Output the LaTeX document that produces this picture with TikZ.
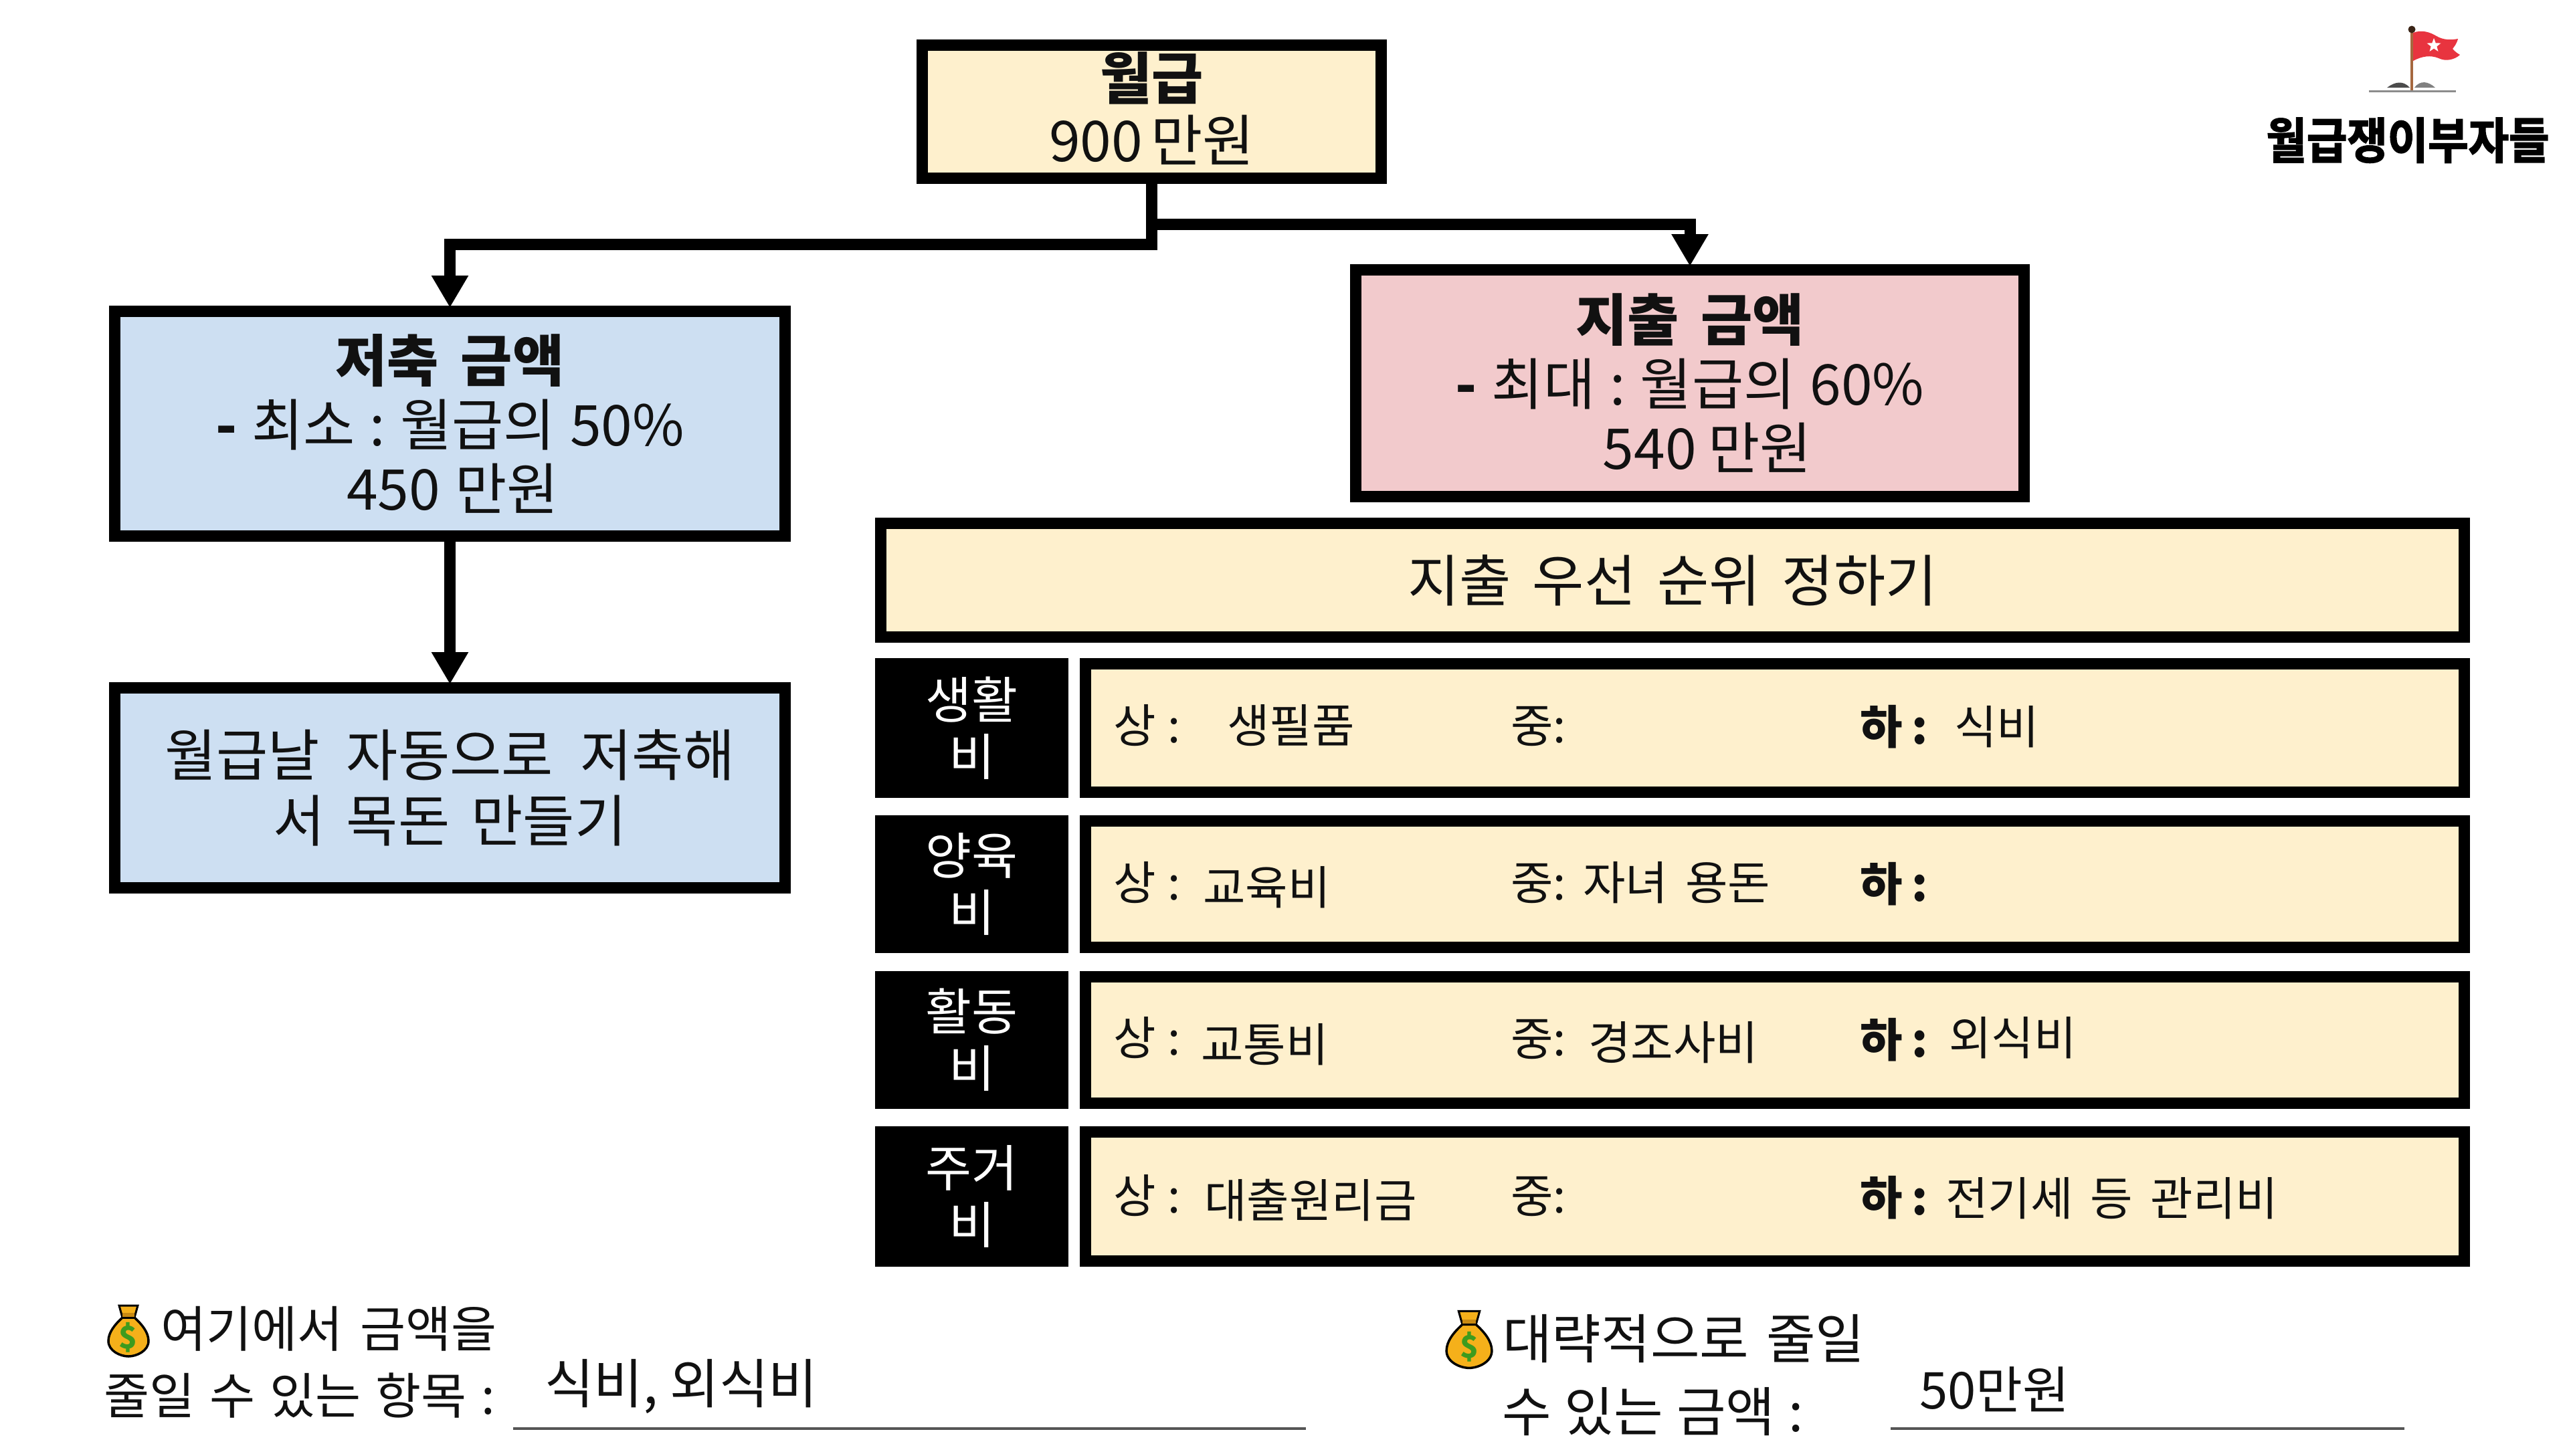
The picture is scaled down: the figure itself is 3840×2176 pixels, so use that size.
\documentclass[tikz,border=0pt]{standalone}
\usepackage{fontspec}
\setmainfont[WordSpace=1.7]{Noto Sans CJK KR}
\newfontfamily\logofont[FakeBold=2.2,FakeStretch=0.9,WordSpace=1]{Noto Sans CJK KR Bold}
\usetikzlibrary{arrows.meta,shapes.geometric}
\definecolor{cream}{HTML}{FEF0CD}
\definecolor{sky}{HTML}{CDDFF2}
\definecolor{rose}{HTML}{F2CACC}
\definecolor{ink}{HTML}{111111}
\definecolor{ruleg}{HTML}{555555}
\definecolor{flagred}{HTML}{E8343F}
\definecolor{pole}{HTML}{A5683F}
\definecolor{baggold}{HTML}{F5B01A}
\definecolor{bagneck}{HTML}{C98A12}
\definecolor{baggreen}{HTML}{3E9B1E}
\newcommand{\fs}[2]{\fontsize{#1}{#2}\selectfont}
\newcommand{\gap}[1]{\hspace{#1pt}}
\tikzset{
  panel/.style={draw=black,line width=17pt,inner sep=0pt,align=center,text=ink,font=\fs{84}{98}},
  cat/.style={fill=black,inner sep=0pt,align=center,text=white,font=\fs{75}{85}},
  rowbox/.style={panel},
  conn/.style={draw=black,line width=17pt,shorten >=-3pt,-{Triangle[width=52pt,length=48pt]}},
  cell/.style={inner sep=0pt,anchor=base west,text=ink,font=\fs{69}{80}},
  cellb/.style={cell,font=\fs{69}{80}\bfseries},
  note/.style={inner sep=0pt,anchor=base west,text=ink,font=\fs{74}{80}},
  answer/.style={inner sep=0pt,anchor=base west,text=ink,font=\fs{80}{90}},
  writeline/.style={draw=ruleg,line width=3.5pt},
  bag/.pic={
    \path[fill=baggold,draw=black,line width=3.5pt]
      (-9,20) .. controls (-20,30) and (-30,42) .. (-30,55)
      .. controls (-30,70) and (-12,78) .. (0,78)
      .. controls (12,78) and (30,70) .. (30,55)
      .. controls (30,42) and (20,30) .. (9,20) -- cycle;
    \path[fill=baggold,draw=black,line width=3pt]
      (-14,2) -- (14,2) -- (9,20) -- (-9,20) -- cycle;
    \path[fill=bagneck] (-9,13) rectangle (9,19);
    \node[inner sep=0pt,text=baggreen,font=\fs{46}{46}\bfseries] (dollar) at (0,50) {\$};
  }
}
\begin{document}
\begin{tikzpicture}[x=1pt,y=-1pt]
\useasboundingbox (0,0) rectangle (3840,2176);
% boxes
\node[panel,fill=cream,minimum width=686pt,minimum height=199pt] (top) at (1721.5,167) {{\bfseries 월급}\\[-5pt]900\gap{12}만원\rule[-14pt]{0pt}{1pt}};
\node[panel,fill=sky,minimum width=1002pt,minimum height=336pt] (sav) at (672.5,633.5) {{\bfseries 저축 금액}\\[-2pt]{\bfseries -}\gap{22}최소\gap{22}:\gap{22}월급의\gap{22}50\%\\[-2pt]\hspace*{8pt}450\gap{22}만원};
\node[panel,fill=sky,minimum width=1002pt,minimum height=299pt] (auto) at (672.5,1178) {월급날\gap{40}자동으로\gap{40}저축해\\서 목돈 만들기};
\node[panel,fill=rose,minimum width=999pt,minimum height=339pt] (spend) at (2526,573) {{\bfseries 지출 금액}\\[-2pt]{\bfseries -}\gap{22}최대\gap{22}:\gap{22}월급의\gap{22}60\%\\[-2pt]\hspace*{52pt}540\gap{18}만원};
\node[panel,fill=cream,minimum width=2367pt,minimum height=170pt] (head) at (2500,867.5) {지출 우선 순위 정하기};
% rows
\node[cat,minimum width=289pt,minimum height=209pt] (c1) at (1452.5,1088.5) {생활\\비};
\node[cat,minimum width=289pt,minimum height=206pt] (c2) at (1452.5,1322) {양육\\비};
\node[cat,minimum width=289pt,minimum height=206pt] (c3) at (1452.5,1555) {활동\\비};
\node[cat,minimum width=289pt,minimum height=210pt] (c4) at (1452.5,1789) {주거\\비};
\node[rowbox,fill=cream,minimum width=2061pt,minimum height=192pt] (r1) at (2653,1088.5) {};
\node[rowbox,fill=cream,minimum width=2061pt,minimum height=189pt] (r2) at (2653,1322) {};
\node[rowbox,fill=cream,minimum width=2061pt,minimum height=189pt] (r3) at (2653,1555) {};
\node[rowbox,fill=cream,minimum width=2061pt,minimum height=193pt] (r4) at (2653,1789) {};
% connectors
\coordinate (jl) at (1721.5,365);
\coordinate (jr) at (1721.5,335);
\draw[conn] (top.south) -- (jl) -| (sav.north);
\draw[conn] (top.south) -- (jr) -| (spend.north);
\draw[conn] (sav.south) -- (auto.north);
% row texts
\node[cell] (a1) at (1664,1110) {상\gap{18}:};
\node[cell] (a1t) at (1834,1110) {생필품};
\node[cell] (b1) at (2258,1110) {중:};
\node[cellb] (d1) at (2780,1112) {하\gap{14}:};
\node[cell] (d1t) at (2921,1112) {식비};
\node[cell] (a2) at (1664,1345) {상\gap{18}:};
\node[cell] (a2t) at (1798,1352) {교육비};
\node[cell] (b2) at (2258,1345) {중:};
\node[cell] (b2t) at (2366,1345) {자녀 용돈};
\node[cellb] (d2) at (2780,1347) {하\gap{14}:};
\node[cell] (a3) at (1664,1577) {상\gap{18}:};
\node[cell] (a3t) at (1795,1587) {교통비};
\node[cell] (b3) at (2258,1578) {중:};
\node[cell] (b3t) at (2374,1584) {경조사비};
\node[cellb] (d3) at (2780,1580) {하\gap{14}:};
\node[cell] (d3t) at (2913,1577) {외식비};
\node[cell] (a4) at (1664,1813) {상\gap{18}:};
\node[cell] (a4t) at (1800,1820) {대출원리금};
\node[cell] (b4) at (2258,1813) {중:};
\node[cellb] (d4) at (2780,1816) {하\gap{14}:};
\node[cell] (d4t) at (2908,1817) {전기세 등 관리비};
% bottom notes
\pic[shift={(192,1950)},xscale=1.0,yscale=1.0] {bag};
\node[note] (n1) at (240,2014) {여기에서\gap{26}금액을};
\node[note] (n2) at (155,2114) {줄일\gap{22}수\gap{22}있는\gap{22}항목\gap{22}:};
\node[answer] (ans1) at (814,2098) {식비,\gap{18}외식비};
\coordinate (l1a) at (767,2136);
\coordinate (l1b) at (1952,2136);
\draw[writeline] (l1a) -- (l1b);
\pic[shift={(2196,1958)},xscale=1.13,yscale=1.12] {bag};
\node[note,font=\fs{80}{80}] (n3) at (2246,2031) {대략적으로\gap{26}줄일};
\node[note,font=\fs{80}{80}] (n4) at (2245,2140) {수\gap{20}있는\gap{20}금액\gap{20}:};
\node[answer,font=\fs{76}{90}] (ans2) at (2869,2106) {50만원};
\coordinate (l2a) at (2826,2136);
\coordinate (l2b) at (3594,2136);
\draw[writeline] (l2a) -- (l2b);
% logo
\path[fill=flagred] (3607,49) .. controls (3620,44) and (3632,48) .. (3642,54)
  .. controls (3652,60) and (3664,60) .. (3674,58)
  .. controls (3672,66) and (3668,70) .. (3666,73)
  .. controls (3670,78) and (3674,80) .. (3677,82)
  .. controls (3668,90) and (3655,92) .. (3645,87)
  .. controls (3633,82) and (3620,84) .. (3607,91) -- cycle;
\node[star,star points=5,star point ratio=2.4,fill=white,inner sep=0pt,minimum size=22pt] (flagstar) at (3638,68) {};
\draw[pole,line width=3.5pt] (3605,44) -- (3605,138);
\fill[black!65!pole] (3605,44) circle (5.5);
\draw[black!45,line width=3pt] (3541,136) -- (3671,136);
\fill[black!70] (3568,131) .. controls (3580,122) and (3592,120) .. (3602,131) -- cycle;
\fill[black!50] (3609,131) .. controls (3618,119) and (3630,122) .. (3640,131) -- cycle;
\node[inner sep=0pt,anchor=base,text=black,font=\logofont\fs{73}{75}] (logo) at (3599,237) {월급쟁이부자들};
\end{tikzpicture}
\end{document}
